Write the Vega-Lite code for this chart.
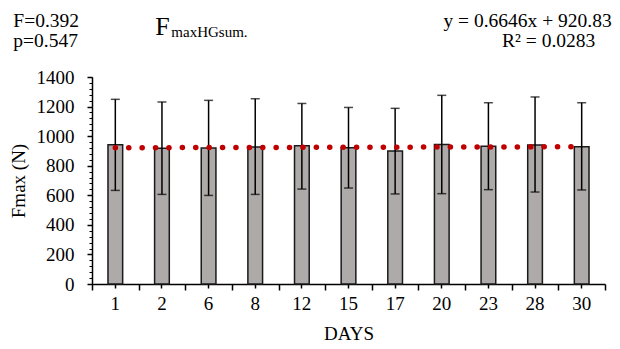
{
  "$schema": "https://vega.github.io/schema/vega-lite/v6.json",
  "width": 513,
  "height": 207,
  "autosize": {"type": "none"},
  "padding": {"left": 92, "top": 77, "right": 15, "bottom": 65},
  "background": "white",
  "config": {
    "font": "Liberation Serif",
    "view": {"stroke": null},
    "axis": {
      "labelFont": "Liberation Serif",
      "titleFont": "Liberation Serif",
      "labelColor": "black",
      "titleColor": "black",
      "domainColor": "black",
      "tickColor": "black",
      "grid": false,
      "labelFontSize": 19,
      "titleFontSize": 19,
      "titleFontWeight": "normal",
      "labelFontWeight": "normal"
    }
  },
  "datasets": {
    "days": [
      {"day": 1, "mean": 942, "low": 633, "high": 1249, "trend": 921.5},
      {"day": 2, "mean": 918, "low": 606, "high": 1231, "trend": 922.2},
      {"day": 6, "mean": 920, "low": 599, "high": 1242, "trend": 922.8},
      {"day": 8, "mean": 926, "low": 606, "high": 1253, "trend": 923.5},
      {"day": 12, "mean": 935, "low": 642, "high": 1221, "trend": 924.1},
      {"day": 15, "mean": 922, "low": 649, "high": 1194, "trend": 924.8},
      {"day": 17, "mean": 900, "low": 609, "high": 1188, "trend": 925.5},
      {"day": 20, "mean": 944, "low": 611, "high": 1276, "trend": 926.1},
      {"day": 23, "mean": 931, "low": 638, "high": 1226, "trend": 926.8},
      {"day": 28, "mean": 940, "low": 622, "high": 1265, "trend": 927.5},
      {"day": 30, "mean": 929, "low": 636, "high": 1226, "trend": 928.1}
    ],
    "one": [{"note": 1}]
  },
  "data": {"name": "days"},
  "resolve": {"axis": {"x": "independent", "y": "independent"}},
  "layer": [
    {
      "mark": {"type": "bar", "width": {"band": 0.315}, "fill": "#AEAAAA", "stroke": "#1a1a1a", "strokeWidth": 1.5},
      "encoding": {
        "x": {
          "field": "day", "type": "ordinal",
          "scale": {"paddingInner": 0, "paddingOuter": 0},
          "axis": {"orient": "bottom", "title": "DAYS", "labelAngle": 0, "tickSize": 4, "labelPadding": 6, "titlePadding": 11, "domainWidth": 1.5, "tickWidth": 1.5}
        },
        "y": {
          "field": "mean", "type": "quantitative",
          "scale": {"domain": [0, 1400], "nice": false},
          "axis": {"orient": "left", "title": "Fmax (N)", "format": "d", "values": [0, 200, 400, 600, 800, 1000, 1200, 1400], "tickSize": 5, "labelPadding": 13, "titlePadding": 8, "domainWidth": 1.5, "tickWidth": 1.5}
        }
      }
    },
    {
      "mark": {"type": "rule", "color": "black", "strokeWidth": 1.5},
      "encoding": {
        "x": {"field": "day", "type": "ordinal", "axis": {"orient": "bottom", "labels": false, "title": null, "tickBand": "extent", "tickSize": 6, "domain": false, "tickWidth": 1.5}},
        "y": {"field": "low", "type": "quantitative", "axis": {"orient": "left", "labels": false, "title": null, "domain": false, "tickSize": 3, "tickWidth": 1,
          "values": [0, 40, 80, 120, 160, 200, 240, 280, 320, 360, 400, 440, 480, 520, 560, 600, 640, 680, 720, 760, 800, 840, 880, 920, 960, 1000, 1040, 1080, 1120, 1160, 1200, 1240, 1280, 1320, 1360, 1400]}},
        "y2": {"field": "high"}
      }
    },
    {
      "mark": {"type": "tick", "orient": "horizontal", "size": 9, "thickness": 1.5, "color": "black"},
      "encoding": {
        "x": {"field": "day", "type": "ordinal", "axis": null},
        "y": {"field": "high", "type": "quantitative", "axis": null}
      }
    },
    {
      "mark": {"type": "tick", "orient": "horizontal", "size": 9, "thickness": 1.5, "color": "black"},
      "encoding": {
        "x": {"field": "day", "type": "ordinal", "axis": null},
        "y": {"field": "low", "type": "quantitative", "axis": null}
      }
    },
    {
      "mark": {"type": "line", "color": "#C00000", "strokeWidth": 5.5, "strokeDash": [0.1, 13.3], "strokeCap": "round"},
      "encoding": {
        "x": {"field": "day", "type": "ordinal", "axis": null},
        "y": {"field": "trend", "type": "quantitative", "axis": null}
      }
    },
    {
      "data": {"name": "one"},
      "mark": {"type": "text", "align": "left", "baseline": "alphabetic", "font": "Liberation Serif", "fontSize": 19.5, "lineHeight": 20, "dx": -102, "fill": "black"},
      "encoding": {
        "x": {"datum": 1, "type": "ordinal", "axis": null},
        "y": {"datum": 1740, "type": "quantitative", "axis": null},
        "text": {"value": ["F=0.392", "p=0.547"]}
      }
    },
    {
      "data": {"name": "one"},
      "mark": {"type": "text", "align": "left", "baseline": "alphabetic", "font": "Liberation Serif", "fontSize": 26, "dx": 40, "fill": "black"},
      "encoding": {
        "x": {"datum": 1, "type": "ordinal", "axis": null},
        "y": {"datum": 1686, "type": "quantitative", "axis": null},
        "text": {"value": "F"}
      }
    },
    {
      "data": {"name": "one"},
      "mark": {"type": "text", "align": "left", "baseline": "alphabetic", "font": "Liberation Serif", "fontSize": 15, "dx": 56, "dy": 2, "fill": "black"},
      "encoding": {
        "x": {"datum": 1, "type": "ordinal", "axis": null},
        "y": {"datum": 1686, "type": "quantitative", "axis": null},
        "text": {"value": "maxHGsum."}
      }
    },
    {
      "data": {"name": "one"},
      "mark": {"type": "text", "align": "right", "baseline": "alphabetic", "font": "Liberation Serif", "fontSize": 19.5, "dx": 30, "fill": "black"},
      "encoding": {
        "x": {"datum": 30, "type": "ordinal", "axis": null},
        "y": {"datum": 1740, "type": "quantitative", "axis": null},
        "text": {"value": "y = 0.6646x + 920.83"}
      }
    },
    {
      "data": {"name": "one"},
      "mark": {"type": "text", "align": "center", "baseline": "alphabetic", "font": "Liberation Serif", "fontSize": 19.5, "dx": -33, "fill": "black"},
      "encoding": {
        "x": {"datum": 30, "type": "ordinal", "axis": null},
        "y": {"datum": 1605, "type": "quantitative", "axis": null},
        "text": {"value": "R² = 0.0283"}
      }
    }
  ]
}
